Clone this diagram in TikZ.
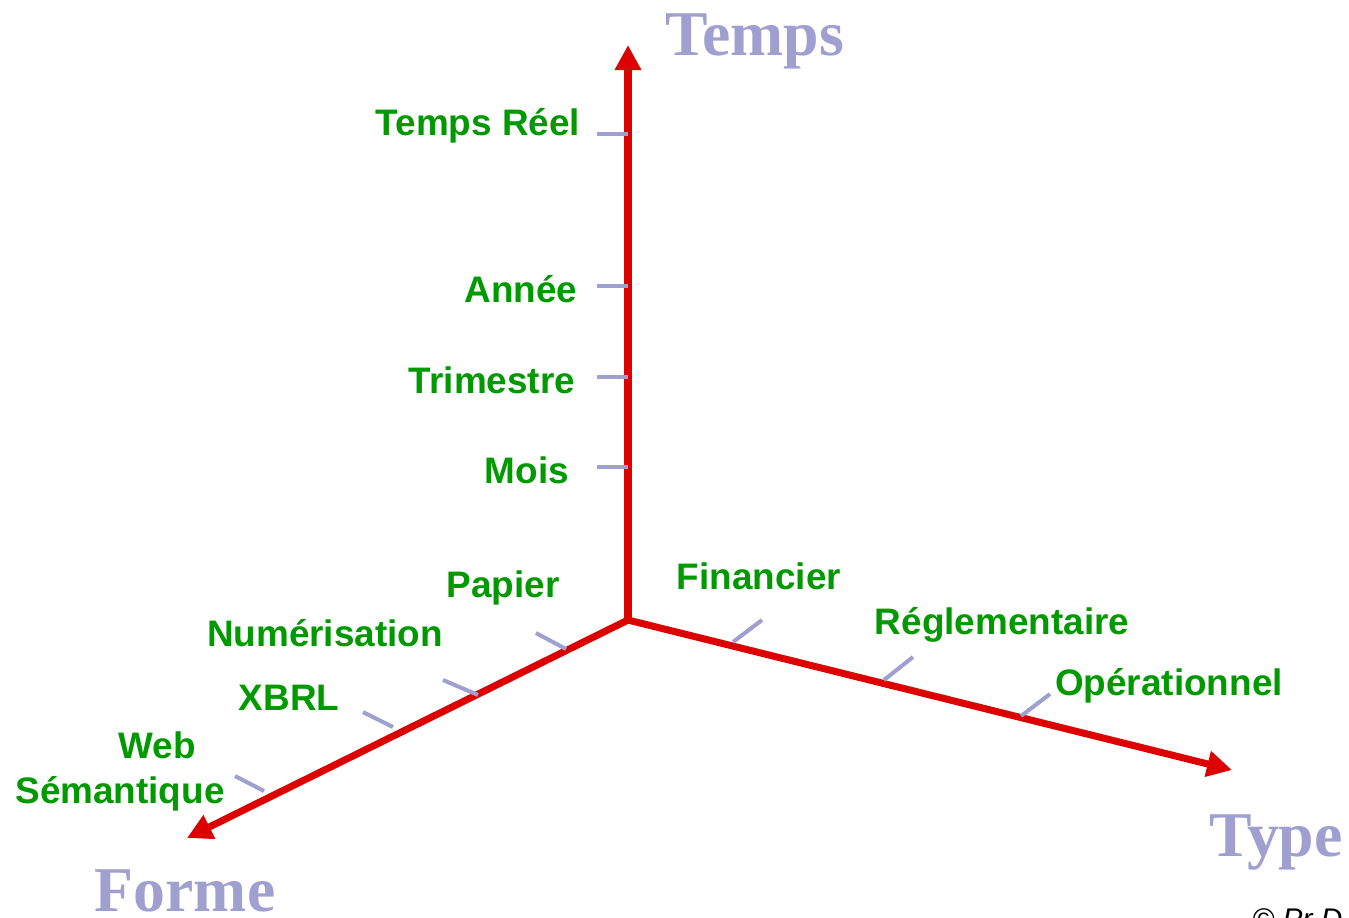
\documentclass[tikz,border=0pt]{standalone}
\usepackage{fontspec}
\setmainfont{Liberation Serif}
\setsansfont{Liberation Sans}
\usetikzlibrary{arrows.meta}
\definecolor{rougeaxe}{RGB}{220,0,0}
\definecolor{lavande}{RGB}{160,160,208}
\definecolor{vert}{RGB}{0,153,0}

\begin{document}
\begin{tikzpicture}[x=0.02cm, y=-0.02cm,
  axe/.style={line width=4pt, rougeaxe, -{Triangle[length=0.5cm, width=0.5cm]}},
  graduation/.style={line width=2.3pt, lavande},
  niveau/.style={vert, anchor=base, font=\sffamily\bfseries\fontsize{21}{24}\selectfont},
  titre/.style={lavande, anchor=base, font=\rmfamily\bfseries\fontsize{36.3}{40}\selectfont}]

\clip (0,0) rectangle (1349,917);

% les trois axes
\coordinate (O) at (628,620);
\coordinate (haut) at (628,45);
\coordinate (gauche) at (187,838);
\coordinate (droite) at (1232,770);
\draw[axe] (O) -- (haut);
\draw[axe] (O) -- (gauche);
\draw[axe] (O) -- (droite);

\node[titre] (temps) at (755,55) {Temps};
\node[titre] (forme) at (185,911) {Forme};
\node[titre] (type) at (1276,856) {Type};

% axe du temps
\foreach \y in {134,286,377,467}
  \draw[graduation] (597,\y) -- (628,\y);
\node[niveau] (reel) at (478,135) {Temps Réel};
\node[niveau] (annee) at (521,302) {Année};
\node[niveau] (trim) at (492,393) {Trimestre};
\node[niveau] (mois) at (527,483) {Mois};

% axe de la forme
\draw[graduation] (536,633) -- (566,649);
\draw[graduation] (443,680) -- (478,695);
\draw[graduation] (363,712) -- (393,727);
\draw[graduation] (235,776) -- (264,791);
\node[niveau] (papier) at (503,597) {Papier};
\node[niveau] (numer) at (325,646) {Numérisation};
\node[niveau] (xbrl) at (289,710) {XBRL};
\node[niveau] (web) at (157,758) {Web};
\node[niveau] (seman) at (120,803) {Sémantique};

% axe du type
\draw[graduation] (733,642) -- (762,620);
\draw[graduation] (884,680) -- (913,657);
\draw[graduation] (1021,716) -- (1050,694);
\node[niveau] (financ) at (759,589) {Financier};
\node[niveau] (regl) at (1002,634) {Réglementaire};
\node[niveau] (operat) at (1169,695) {Opérationnel};

\node[anchor=north west, inner sep=0pt, font=\sffamily\itshape\fontsize{17}{20}\selectfont] (copy) at (1252,908) {© Pr D};

\end{tikzpicture}
\end{document}
